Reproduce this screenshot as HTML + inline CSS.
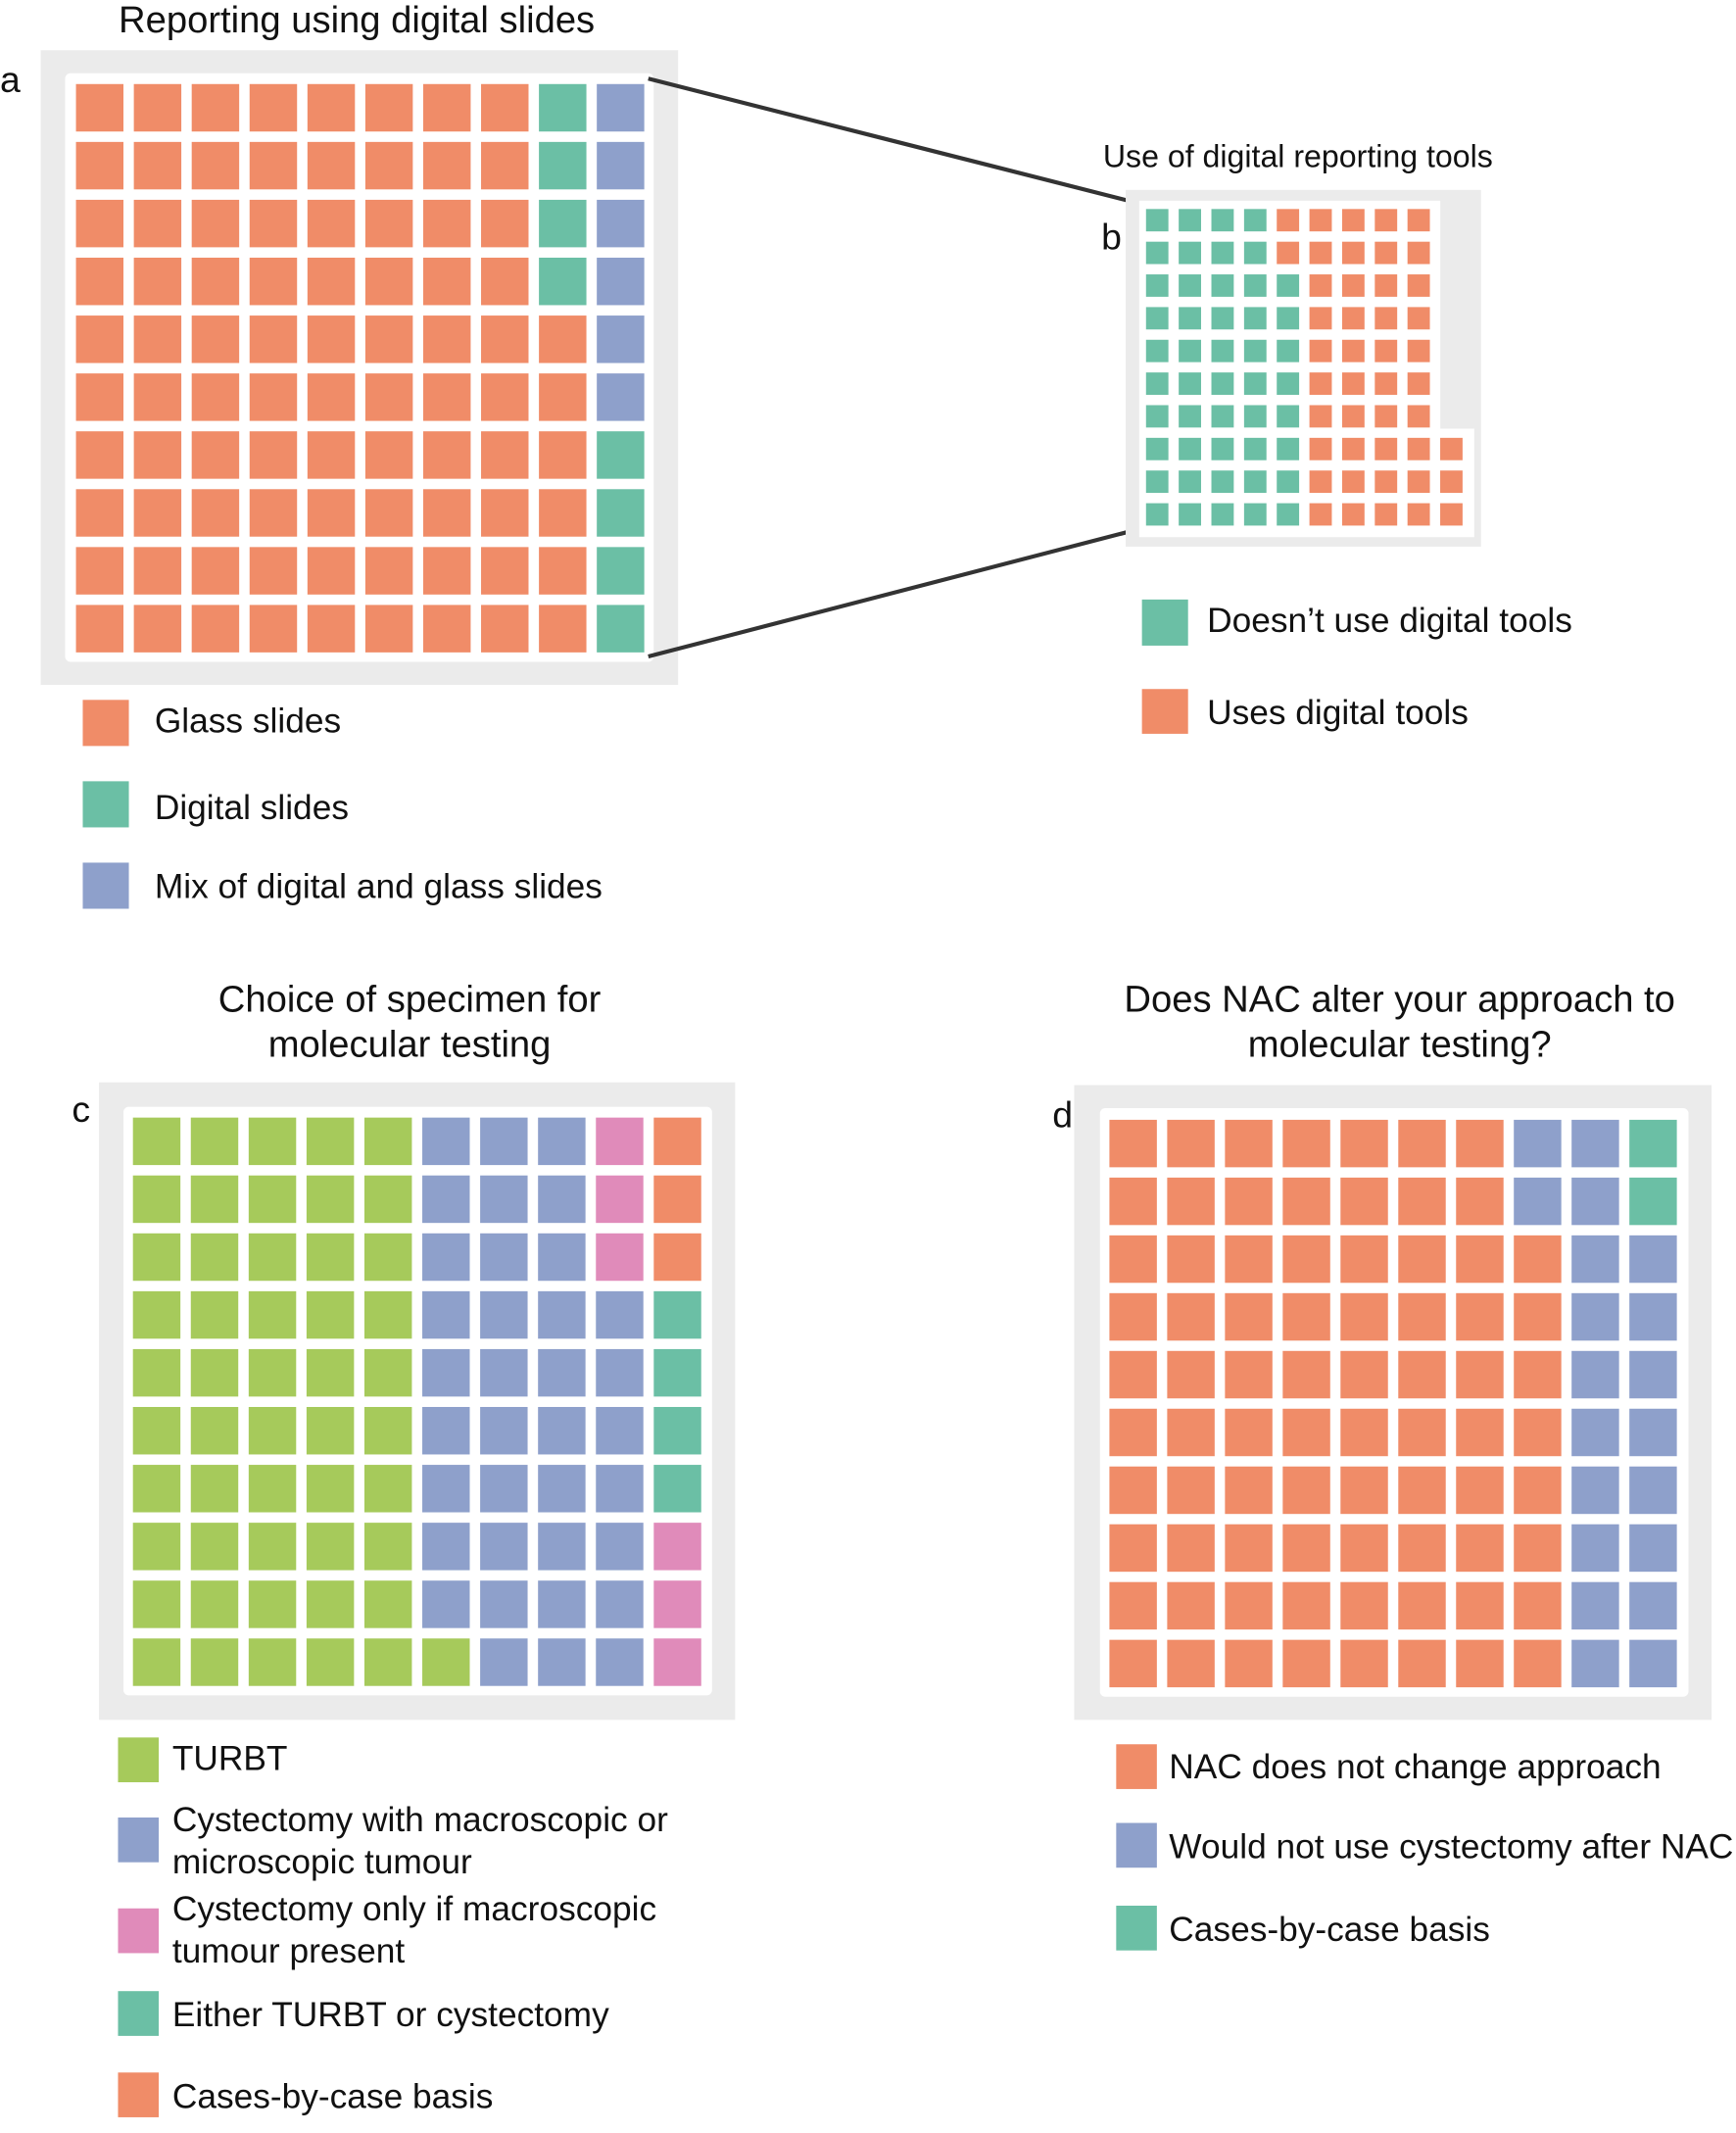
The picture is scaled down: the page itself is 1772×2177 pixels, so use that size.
<!DOCTYPE html>
<html><head><meta charset="utf-8"><style>
html,body{margin:0;padding:0;background:#fff;}
svg{display:block;}
text{font-family:"Liberation Sans",Arial,sans-serif;fill:#111;}
</style></head><body>
<svg id="fig" xmlns="http://www.w3.org/2000/svg" width="1772" height="2177" viewBox="0 0 1280 1572.6">
<g>
<text x="263" y="24" font-size="27.6" text-anchor="middle">Reporting using digital slides</text>
<text x="0" y="68" font-size="27">a</text>
<rect x="30" y="37" width="470" height="468" fill="#ebebeb"/>
<rect x="48" y="54" width="434" height="434" rx="4" fill="#fff"/>
<g id="ga"></g>
</g>
<line x1="478" y1="58" x2="840" y2="150" stroke="#333" stroke-width="3"/>
<line x1="478" y1="484" x2="840" y2="390" stroke="#333" stroke-width="3"/>
<g>
<text x="957" y="123" font-size="23.2" text-anchor="middle">Use of digital reporting tools</text>
<text x="812" y="184" font-size="27">b</text>
<rect x="830" y="140" width="262" height="263" fill="#ebebeb"/>
<path d="M840 148 H1062 V316 H1087 V396 H840 Z" fill="#fff"/>
<g id="gb"></g>
</g>
<g>
<text x="302" y="746" font-size="27.6" text-anchor="middle">Choice of specimen for</text>
<text x="302" y="779" font-size="27.6" text-anchor="middle">molecular testing</text>
<text x="53" y="827" font-size="27">c</text>
<rect x="73" y="798" width="469" height="470" fill="#ebebeb"/>
<rect x="91" y="816" width="434" height="434" rx="4" fill="#fff"/>
<g id="gc"></g>
</g>
<g>
<text x="1032" y="746" font-size="27.6" text-anchor="middle">Does NAC alter your approach to</text>
<text x="1032" y="779" font-size="27.6" text-anchor="middle">molecular testing?</text>
<text x="776" y="831" font-size="27">d</text>
<rect x="792" y="800" width="470" height="468" fill="#ebebeb"/>
<rect x="811" y="817" width="434" height="434" rx="4" fill="#fff"/>
<g id="gd"></g>
</g>
<g>
<rect x="61" y="516" width="34" height="34" fill="#f08c68"/>
<text x="114" y="540" font-size="25.5">Glass slides</text>
<rect x="61" y="576" width="34" height="34" fill="#6bbfa5"/>
<text x="114" y="604" font-size="25.5">Digital slides</text>
<rect x="61" y="636" width="34" height="34" fill="#8ea0cb"/>
<text x="114" y="662" font-size="25.5">Mix of digital and glass slides</text>
</g>
<g>
<rect x="842" y="442" width="34" height="34" fill="#6bbfa5"/>
<text x="890" y="466" font-size="25.5">Doesn’t use digital tools</text>
<rect x="842" y="508" width="34" height="33" fill="#f08c68"/>
<text x="890" y="534" font-size="25.5">Uses digital tools</text>
</g>
<g>
<rect x="87" y="1281" width="30" height="33" fill="#a6ca5b"/>
<text x="127" y="1305" font-size="25.5">TURBT</text>
<rect x="87" y="1340" width="30" height="33" fill="#8ea0cb"/>
<text x="127" y="1350" font-size="25.5">Cystectomy with macroscopic or</text>
<text x="127" y="1381" font-size="25.5">microscopic tumour</text>
<rect x="87" y="1407" width="30" height="33" fill="#e08bba"/>
<text x="127" y="1416" font-size="25.5">Cystectomy only if macroscopic</text>
<text x="127" y="1447" font-size="25.5">tumour present</text>
<rect x="87" y="1468" width="30" height="33" fill="#6bbfa5"/>
<text x="127" y="1494" font-size="25.5">Either TURBT or cystectomy</text>
<rect x="87" y="1528" width="30" height="33" fill="#f08c68"/>
<text x="127" y="1554" font-size="25.5">Cases-by-case basis</text>
</g>
<g>
<rect x="823" y="1286" width="30" height="33" fill="#f08c68"/>
<text x="862" y="1311" font-size="25.5">NAC does not change approach</text>
<rect x="823" y="1344" width="30" height="33" fill="#8ea0cb"/>
<text x="862" y="1370" font-size="25.5">Would not use cystectomy after NAC</text>
<rect x="823" y="1405" width="30" height="33" fill="#6bbfa5"/>
<text x="862" y="1431" font-size="25.5">Cases-by-case basis</text>
</g>
</svg>
<script>
// Waffle data: counts per category, filled column-major from bottom-left
const aCategories = ["Glass slides","Digital slides","Mix of digital and glass slides"];
const aCounts = [86, 8, 6];
const bCategories = ["Doesn't use digital tools","Uses digital tools"];
const bCounts = [48, 45];
const cCategories = ["TURBT","Cystectomy macro/micro","Cystectomy macro only","Either","Case-by-case"];
const cCounts = [51, 36, 6, 4, 3];
const dCategories = ["NAC does not change approach","Would not use cystectomy after NAC","Case-by-case"];
const dCounts = [78, 20, 2];

const NS = "http://www.w3.org/2000/svg";
function drawWaffle(gid, counts, colors, x0, yBottom, pitch, size, rows, prefix) {
  const g = document.getElementById(gid);
  let idx = 0;
  counts.forEach((n, ci) => {
    for (let k = 0; k < n; k++) {
      const col = Math.floor(idx / rows), row = idx % rows;
      const r = document.createElementNS(NS, "rect");
      r.setAttribute("x", x0 + col * pitch);
      r.setAttribute("y", yBottom - row * pitch - size);
      r.setAttribute("width", size);
      r.setAttribute("height", size);
      r.setAttribute("fill", colors[ci]);
      
      
      g.appendChild(r);
      idx++;
    }
  });
}
const OR = "#f08c68", TE = "#6bbfa5", BL = "#8ea0cb", PK = "#e08bba", GR = "#a6ca5b";
drawWaffle("ga", aCounts, [OR, TE, BL], 56, 481, 42.67, 35, 10, "panel-a");
drawWaffle("gb", bCounts, [TE, OR], 845, 387.5, 24.1, 16.5, 10, "panel-b");
drawWaffle("gc", cCounts, [GR, BL, PK, TE, OR], 98, 1243, 42.67, 35, 10, "panel-c");
drawWaffle("gd", dCounts, [OR, BL, TE], 818, 1244, 42.6, 35, 10, "panel-d");
</script>
</body></html>
